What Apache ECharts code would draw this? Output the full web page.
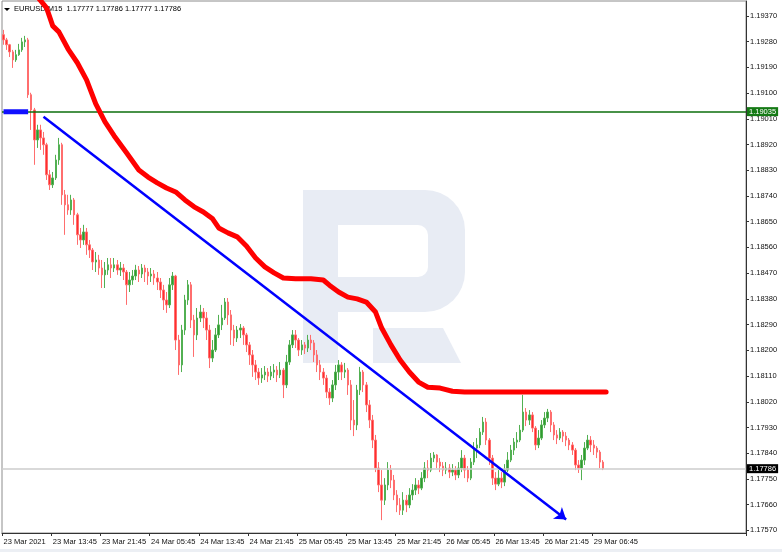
<!DOCTYPE html>
<html><head><meta charset="utf-8">
<script src="https://cdn.jsdelivr.net/npm/echarts@6/dist/echarts.min.js"></script>
<style>html,body{margin:0;padding:0;background:#fff}#c{width:782px;height:552px}</style>
</head><body><div id="c"></div><script>
// ---------- data ----------
const headerText = 'EURUSD,M15  1.17777 1.17786 1.17777 1.17786';
const timeLabels = ['23 Mar 2021','23 Mar 13:45','23 Mar 21:45','24 Mar 05:45','24 Mar 13:45','24 Mar 21:45','25 Mar 05:45','25 Mar 13:45','25 Mar 21:45','26 Mar 05:45','26 Mar 13:45','26 Mar 21:45','29 Mar 06:45'];
const priceTicks = [1.17570,1.17660,1.17750,1.17840,1.17930,1.18020,1.18110,1.18200,1.18290,1.18380,1.18470,1.18560,1.18650,1.18740,1.18830,1.18920,1.19010,1.19100,1.19190,1.19280,1.19370];

const opens = [1.19304,1.19286,1.19269,1.19244,1.19216,1.19234,1.19251,1.19279,1.19286,1.19094,
1.19041,1.18936,1.18971,1.18943,1.18919,1.18814,1.18779,1.18803,1.18866,1.18919,
1.18744,1.18709,1.18691,1.18726,1.18674,1.18604,1.18586,1.18614,1.18569,1.18551,
1.18509,1.18516,1.18488,1.18464,1.18481,1.18499,1.18488,1.18499,1.18481,1.18488,
1.18474,1.18429,1.18446,1.18460,1.18481,1.18467,1.18488,1.18474,1.18460,1.18467,
1.18453,1.18439,1.18411,1.18376,1.18359,1.18429,1.18460,1.18236,1.18149,1.18271,
1.18376,1.18429,1.18306,1.18254,1.18313,1.18334,1.18313,1.18271,1.18173,1.18201,
1.18254,1.18289,1.18313,1.18369,1.18324,1.18271,1.18243,1.18271,1.18278,1.18254,
1.18219,1.18184,1.18149,1.18124,1.18103,1.18114,1.18124,1.18110,1.18124,1.18131,
1.18114,1.18131,1.18079,1.18159,1.18219,1.18254,1.18236,1.18201,1.18219,1.18208,
1.18236,1.18226,1.18184,1.18149,1.18124,1.18103,1.18054,1.18033,1.18079,1.18124,
1.18149,1.18124,1.18131,1.18079,1.17956,1.17939,1.18061,1.18124,1.18079,1.18009,
1.17956,1.17886,1.17788,1.17729,1.17676,1.17729,1.17781,1.17746,1.17694,1.17659,
1.17641,1.17676,1.17659,1.17694,1.17711,1.17729,1.17718,1.17753,1.17788,1.17781,
1.17823,1.17834,1.17809,1.17795,1.17781,1.17788,1.17774,1.17781,1.17764,1.17788,
1.17823,1.17781,1.17753,1.17809,1.17858,1.17869,1.17914,1.17949,1.17886,1.17823,
1.17753,1.17732,1.17753,1.17739,1.17781,1.17816,1.17851,1.17879,1.17886,1.17921,
1.17984,1.17956,1.17974,1.17928,1.17869,1.17893,1.17939,1.17963,1.17984,1.17939,
1.17904,1.17893,1.17914,1.17900,1.17886,1.17869,1.17851,1.17799,1.17788,1.17816,
1.17858,1.17886,1.17869,1.17858,1.17844,1.17809];

const closes = [1.19286,1.19269,1.19244,1.19216,1.19234,1.19251,1.19279,1.19286,1.19094,1.19041,
1.18936,1.18971,1.18943,1.18919,1.18814,1.18779,1.18803,1.18866,1.18919,1.18744,
1.18709,1.18691,1.18726,1.18674,1.18604,1.18586,1.18614,1.18569,1.18551,1.18509,
1.18516,1.18488,1.18464,1.18481,1.18499,1.18488,1.18499,1.18481,1.18488,1.18474,
1.18429,1.18446,1.18460,1.18481,1.18467,1.18488,1.18474,1.18460,1.18467,1.18453,
1.18439,1.18411,1.18376,1.18359,1.18429,1.18460,1.18236,1.18149,1.18271,1.18376,
1.18429,1.18306,1.18254,1.18313,1.18334,1.18313,1.18271,1.18173,1.18201,1.18254,
1.18289,1.18313,1.18369,1.18324,1.18271,1.18243,1.18271,1.18278,1.18254,1.18219,
1.18184,1.18149,1.18124,1.18103,1.18114,1.18124,1.18110,1.18124,1.18131,1.18114,
1.18131,1.18079,1.18159,1.18219,1.18254,1.18236,1.18201,1.18219,1.18208,1.18236,
1.18226,1.18184,1.18149,1.18124,1.18103,1.18054,1.18033,1.18079,1.18124,1.18149,
1.18124,1.18131,1.18079,1.17956,1.17939,1.18061,1.18124,1.18079,1.18009,1.17956,
1.17886,1.17788,1.17729,1.17676,1.17729,1.17781,1.17746,1.17694,1.17659,1.17641,
1.17676,1.17659,1.17694,1.17711,1.17729,1.17718,1.17753,1.17788,1.17781,1.17823,
1.17834,1.17809,1.17795,1.17781,1.17788,1.17774,1.17781,1.17764,1.17788,1.17823,
1.17781,1.17753,1.17809,1.17858,1.17869,1.17914,1.17949,1.17886,1.17823,1.17753,
1.17732,1.17753,1.17739,1.17781,1.17816,1.17851,1.17879,1.17886,1.17921,1.17984,
1.17956,1.17974,1.17928,1.17869,1.17893,1.17939,1.17963,1.17984,1.17939,1.17904,
1.17893,1.17914,1.17900,1.17886,1.17869,1.17851,1.17799,1.17788,1.17816,1.17858,
1.17886,1.17869,1.17858,1.17844,1.17809,1.17786];

const highs = [1.19321,1.19293,1.19272,1.19251,1.19251,1.19272,1.19293,1.19300,1.19293,1.19101,
1.19048,1.18989,1.18989,1.18964,1.18926,1.18831,1.18824,1.18884,1.18943,1.18926,
1.18761,1.18744,1.18744,1.18733,1.18681,1.18628,1.18639,1.18628,1.18586,1.18558,
1.18544,1.18534,1.18516,1.18509,1.18523,1.18523,1.18523,1.18516,1.18509,1.18502,
1.18481,1.18474,1.18481,1.18499,1.18495,1.18502,1.18499,1.18488,1.18488,1.18481,
1.18474,1.18453,1.18429,1.18404,1.18453,1.18474,1.18464,1.18254,1.18289,1.18394,
1.18446,1.18439,1.18324,1.18348,1.18359,1.18348,1.18334,1.18289,1.18236,1.18278,
1.18324,1.18359,1.18383,1.18383,1.18341,1.18289,1.18285,1.18292,1.18285,1.18261,
1.18229,1.18201,1.18166,1.18138,1.18138,1.18145,1.18138,1.18145,1.18152,1.18145,
1.18159,1.18138,1.18184,1.18236,1.18271,1.18271,1.18243,1.18236,1.18229,1.18254,
1.18254,1.18236,1.18201,1.18166,1.18138,1.18114,1.18068,1.18096,1.18149,1.18166,
1.18159,1.18156,1.18138,1.18096,1.18026,1.18079,1.18142,1.18131,1.18089,1.18026,
1.17974,1.17904,1.17809,1.17781,1.17753,1.17809,1.17799,1.17764,1.17711,1.17683,
1.17704,1.17694,1.17718,1.17732,1.17753,1.17746,1.17774,1.17809,1.17816,1.17841,
1.17844,1.17837,1.17823,1.17809,1.17809,1.17802,1.17802,1.17795,1.17809,1.17851,
1.17834,1.17795,1.17823,1.17879,1.17893,1.17928,1.17967,1.17963,1.17893,1.17834,
1.17774,1.17781,1.17774,1.17802,1.17844,1.17869,1.17893,1.17914,1.17939,1.18044,
1.17998,1.17991,1.17984,1.17935,1.17921,1.17956,1.17984,1.17995,1.17991,1.17949,
1.17921,1.17928,1.17921,1.17914,1.17893,1.17879,1.17858,1.17816,1.17834,1.17879,
1.17904,1.17900,1.17886,1.17865,1.17851,1.17816];

const lows = [1.19269,1.19251,1.19226,1.19188,1.19209,1.19230,1.19244,1.19261,1.19083,1.18971,
1.18849,1.18908,1.18901,1.18884,1.18796,1.18761,1.18768,1.18796,1.18849,1.18709,
1.18604,1.18674,1.18674,1.18639,1.18569,1.18558,1.18569,1.18534,1.18523,1.18481,
1.18474,1.18464,1.18418,1.18418,1.18464,1.18453,1.18474,1.18464,1.18460,1.18446,
1.18359,1.18404,1.18429,1.18446,1.18439,1.18453,1.18439,1.18429,1.18439,1.18429,
1.18411,1.18383,1.18341,1.18331,1.18348,1.18411,1.18201,1.18114,1.18124,1.18254,
1.18359,1.18278,1.18177,1.18236,1.18299,1.18278,1.18236,1.18138,1.18159,1.18194,
1.18243,1.18271,1.18306,1.18289,1.18219,1.18215,1.18229,1.18243,1.18219,1.18194,
1.18149,1.18107,1.18096,1.18079,1.18086,1.18096,1.18089,1.18096,1.18103,1.18089,
1.18103,1.18033,1.18068,1.18149,1.18208,1.18208,1.18180,1.18184,1.18187,1.18194,
1.18201,1.18159,1.18124,1.18096,1.18079,1.18033,1.18009,1.18019,1.18061,1.18096,
1.18096,1.18103,1.18044,1.17921,1.17900,1.17921,1.18044,1.18054,1.17984,1.17928,
1.17858,1.17774,1.17704,1.17606,1.17659,1.17711,1.17718,1.17676,1.17634,1.17624,
1.17624,1.17634,1.17648,1.17676,1.17694,1.17697,1.17711,1.17739,1.17753,1.17774,
1.17809,1.17788,1.17774,1.17760,1.17767,1.17753,1.17760,1.17746,1.17753,1.17774,
1.17753,1.17739,1.17746,1.17799,1.17823,1.17858,1.17904,1.17869,1.17799,1.17729,
1.17711,1.17725,1.17718,1.17725,1.17774,1.17809,1.17834,1.17858,1.17879,1.17914,
1.17935,1.17939,1.17914,1.17851,1.17858,1.17886,1.17928,1.17949,1.17914,1.17886,
1.17872,1.17886,1.17879,1.17865,1.17851,1.17834,1.17781,1.17771,1.17746,1.17799,
1.17851,1.17844,1.17834,1.17823,1.17788,1.17781];

// moving average (red) read at bar indices
const maIndex = [10,14,16,18,21,24,27,30,33,36,40,44,47,50,53,56,59,62,65,68,70,73,76,79,82,85,88,91,95,100,104,106,109,112,115,118,121,123,126,129,132,135,138,142,146,150,160,170,180,196];
const maValues = [1.19450,1.19398,1.19335,1.19314,1.19254,1.19206,1.19146,1.19062,1.18999,1.18950,1.18891,1.18831,1.18806,1.18786,1.18768,1.18754,1.18726,1.18702,1.18684,1.18660,1.18628,1.18611,1.18597,1.18565,1.18523,1.18492,1.18471,1.18453,1.18450,1.18450,1.18446,1.18428,1.18404,1.18386,1.18380,1.18369,1.18334,1.18278,1.18219,1.18166,1.18124,1.18089,1.18071,1.18068,1.18057,1.18054,1.18054,1.18054,1.18054,1.18054];

const trendStart = [13, 1.19017];
const trendEnd = [183, 1.17608];
const levelLine = 1.19035;
const levelMarkEnd = 8;
const lastPrice = 1.17786;

const SLOTS = 242;
const LABEL_STEP = 16;

// ---------- chart ----------
const categories = Array.from({length: SLOTS}, (_, i) => String(i));
const isLabelSlot = (i) => i % LABEL_STEP === 0 && (i / LABEL_STEP) < timeLabels.length;
const candleData = opens.map((o, i) => [o, closes[i], lows[i], highs[i]]);
const maData = maIndex.map((x, i) => [x, maValues[i]]);
const FONT = 'Liberation Sans';
const WM = '#e8ecf4';

const priceBox = (value, bg) => ({
  show: true, position: 'end', distance: 1, formatter: value.toFixed(5),
  backgroundColor: bg, color: '#fff', padding: [1, 2, 0, 2], fontFamily: FONT, fontSize: 7.5
});

const chart = echarts.init(document.getElementById('c'), null, {renderer: 'canvas'});
chart.setOption({
  animation: false,
  backgroundColor: '#ffffff',
  grid: {left: 2, right: 36, top: 1, bottom: 19, show: true, borderColor: '#8c8c8c', borderWidth: 1, containLabel: false},
  xAxis: {
    type: 'category', data: categories, boundaryGap: true,
    axisLine: {lineStyle: {color: '#333', width: 1}},
    axisTick: {show: true, length: 3, interval: (i) => isLabelSlot(i), lineStyle: {color: '#333'}},
    axisLabel: {
      interval: (i) => isLabelSlot(i), align: 'left', margin: 5,
      fontFamily: FONT, fontSize: 7.5, color: '#111',
      formatter: (v, i) => isLabelSlot(i) ? timeLabels[i / LABEL_STEP] : ''
    },
    splitLine: {show: false}
  },
  yAxis: {
    type: 'value', position: 'right', min: 1.17561, max: 1.19422, scale: true,
    axisLine: {show: true, lineStyle: {color: '#333', width: 1}},
    axisTick: {show: true, length: 3, customValues: priceTicks, lineStyle: {color: '#333'}},
    axisLabel: {customValues: priceTicks, margin: 4, fontFamily: FONT, fontSize: 7.5, color: '#111', formatter: (v) => v.toFixed(5)},
    splitLine: {show: false}
  },
  graphic: [
    {type: 'rect', z: 0, shape: {x: 0, y: 549, width: 782, height: 3}, style: {fill: '#eceff4'}},
    // watermark logo
    {type: 'rect', z: 0, silent: true, shape: {x: 303, y: 190, width: 35, height: 173}, style: {fill: WM}},
    {type: 'rect', z: 0, silent: true, shape: {x: 337, y: 190, width: 128, height: 122, r: [0, 40, 40, 0]}, style: {fill: WM}},
    {type: 'rect', z: 0, silent: true, shape: {x: 338, y: 225, width: 90, height: 52, r: [0, 10, 10, 0]}, style: {fill: '#ffffff'}},
    {type: 'polygon', z: 0, silent: true, shape: {points: [[373,328],[443,328],[461,363],[373,363]]}, style: {fill: WM}},
    // header
    {type: 'polygon', z: 1, shape: {points: [[4,8],[10,8],[7,11]]}, style: {fill: '#000'}},
    {type: 'text', z: 1, left: 14, top: 5, style: {text: headerText, font: '7.5px "Liberation Sans"', fill: '#000'}}
  ],
  series: [
    {
      type: 'line', data: [], z: 2, symbol: 'none',
      markLine: {
        silent: true, symbol: 'none', animation: false, precision: 5,
        data: [
          {yAxis: lastPrice, lineStyle: {color: '#cdcdcd', width: 1.5, type: 'solid'}, label: priceBox(lastPrice, '#000')}
        ]
      }
    },
    {
      type: 'candlestick', data: candleData, barWidth: 2, z: 3,
      itemStyle: {color: '#2f9a2f', color0: '#ff2e2e', borderColor: '#52b052', borderColor0: '#ff6e6e', borderWidth: 1}
    },
    {
      type: 'line', data: [], z: 4, symbol: 'none',
      markLine: {
        silent: true, symbol: 'none', animation: false, precision: 5,
        data: [
          {yAxis: levelLine, lineStyle: {color: '#0b6e0b', width: 1.5, type: 'solid'}, label: priceBox(levelLine, '#157a15')}
        ]
      }
    },
    {
      type: 'line', data: [[0, levelLine], [levelMarkEnd, levelLine]], symbol: 'none', z: 5,
      lineStyle: {color: '#1010ff', width: 5}
    },
    {
      type: 'line', data: maData, symbol: 'none', z: 6, clip: true,
      lineStyle: {color: '#ff0000', width: 5, cap: 'round', join: 'round'}
    },
    {
      type: 'line', data: [], z: 7,
      markLine: {
        silent: true, animation: false, symbol: ['none', 'arrow'], symbolSize: 11, precision: 5,
        lineStyle: {color: '#0000ff', width: 2.5, type: 'solid'},
        label: {show: false},
        data: [[{coord: trendStart}, {coord: trendEnd}]]
      }
    }
  ]
});
</script></body></html>
